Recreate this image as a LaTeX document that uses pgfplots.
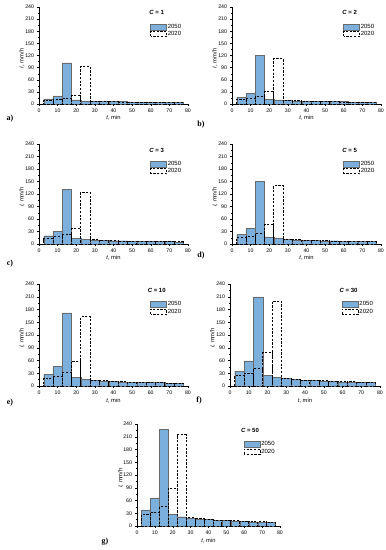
\documentclass[border=0pt]{standalone}
\usepackage{fontspec}
\setmainfont{Liberation Sans}
\newfontfamily\serifL{Liberation Serif}
\usepackage{pgfplots}
\usepackage{pgfplotstable}
\pgfplotsset{compat=1.18}
\definecolor{barblue}{RGB}{124,176,220}
\definecolor{baredge}{RGB}{105,105,105}

\pgfplotstableread{
t  a50 a20 b50 b20 c50 c20 d50 d20 e50 e20 f50 f20 g50 g20
5  13  10  17  12  20  13  23  15  27  18  35  24  38  27
10 20  12  26  15  31  17  37  19  46  23  59  30  66  33
15 102 15  120 19  132 22  150 25  172 31  210 41  227 45
20 10  20  12  30  14  37  17  46  20  59  25  79  28  89
25 8   93  10  112 11  124 13  140 16  163 20  199 22  215
30 7   7   9   9   10  10  12  12  14  14  18  18  19  20
35 7   6   8   8   9   9   10  10  12  12  15  16  17  17
40 6   6   7   7   8   8   9   9   11  11  14  14  15  15
45 6   5   7   6   8   7   9   8   10  10  13  13  14  14
50 5   5   6   6   7   7   8   8   9   9   12  12  13  13
55 5   5   6   6   7   6   8   7   9   9   11  11  12  12
60 5   4   6   5   6   6   7   7   8   8   10  10  11  11
65 4   4   5   5   6   6   7   7   8   8   10  10  10  11
70 4   4   5   5   6   5   6   6   7   7   9   9   10  10
75 4   3   5   4   5   5   6   6   7   7   9   8   9   9
}\data

\tikzset{ctitle/.style={font=\bfseries\fontsize{6}{7}\selectfont}}
\pgfplotsset{
  panel/.style={
    scale only axis, anchor=south west,
    xmin=0, xmax=80, ymin=0, ymax=240,
    xtick={0,10,...,80}, ytick={0,30,...,240},
    minor x tick num=1, minor y tick num=1,
    axis lines=left, axis line style={-, black, line width=0.4pt},
    tick align=outside, major tick length=2pt, minor tick length=1.2pt,
    tick style={black, line width=0.35pt},
    ticklabel style={font=\fontsize{5.2}{6}\selectfont},
    xticklabel style={yshift=0.5pt},
    yticklabel style={xshift=0.5pt},
    /pgf/number format/assume math mode=true,
    xlabel={\textit{t}, min}, ylabel={\textit{I}, mm/h},
    label style={font=\fontsize{5.8}{7}\selectfont},
    xlabel style={at={(axis description cs:0.5,-0.14)}, anchor=center},
    ylabel style={at={(axis description cs:-0.115,0.47)}, anchor=center},
    legend style={at={(axis description cs:0.745,0.835)}, anchor=north west,
      draw=none, fill=none, font=\fontsize{6}{7}\selectfont,
      inner sep=0pt, row sep=0pt, nodes={inner sep=0.7pt}, cells={anchor=west}},
  },
  b50/.style={ybar, bar width=5, bar shift=0pt, fill=barblue, draw=baredge, line width=0.3pt,
    legend image code/.code={\draw[##1] (0pt,-3pt) rectangle (16pt,3pt);}},
  b20/.style={ybar, bar width=5, bar shift=0pt, fill=none, draw=black, line width=0.85pt,
    dash pattern=on 2.2pt off 1.5pt,
    legend image code/.code={\draw[##1] (0pt,-2.5pt) rectangle (16pt,2.5pt);}},
}

\begin{document}
\begin{tikzpicture}
\useasboundingbox (0pt,0pt) rectangle (386pt,-550pt);

% a
\begin{axis}[panel, at={(39pt,-104pt)}, width=149pt, height=97pt]
\addplot[b50] table[x=t,y=a50]{\data};
\addplot[b20] table[x=t,y=a20]{\data};
\legend{2050,2020}
\node[ctitle] at (axis description cs:0.79,0.94) {\textit{C} = 1};
\end{axis}
% b
\begin{axis}[panel, at={(232pt,-104pt)}, width=149pt, height=97pt]
\addplot[b50] table[x=t,y=b50]{\data};
\addplot[b20] table[x=t,y=b20]{\data};
\legend{2050,2020}
\node[ctitle] at (axis description cs:0.79,0.94) {\textit{C} = 2};
\end{axis}
% c
\begin{axis}[panel, at={(39pt,-244pt)}, width=149pt, height=100pt]
\addplot[b50] table[x=t,y=c50]{\data};
\addplot[b20] table[x=t,y=c20]{\data};
\legend{2050,2020}
\node[ctitle] at (axis description cs:0.79,0.94) {\textit{C} = 3};
\end{axis}
% d
\begin{axis}[panel, at={(232pt,-244pt)}, width=149pt, height=100pt]
\addplot[b50] table[x=t,y=d50]{\data};
\addplot[b20] table[x=t,y=d20]{\data};
\legend{2050,2020}
\node[ctitle] at (axis description cs:0.79,0.94) {\textit{C} = 5};
\end{axis}
% e
\begin{axis}[panel, at={(39pt,-386pt)}, width=149pt, height=102pt]
\addplot[b50] table[x=t,y=e50]{\data};
\addplot[b20] table[x=t,y=e20]{\data};
\legend{2050,2020}
\node[ctitle] at (axis description cs:0.79,0.94) {\textit{C} = 10};
\end{axis}
% f
\begin{axis}[panel, at={(230pt,-386pt)}, width=150pt, height=102pt]
\addplot[b50] table[x=t,y=f50]{\data};
\addplot[b20] table[x=t,y=f20]{\data};
\legend{2050,2020}
\node[ctitle] at (axis description cs:0.79,0.94) {\textit{C} = 30};
\end{axis}
% g
\begin{axis}[panel, at={(137pt,-526pt)}, width=143pt, height=102pt]
\addplot[b50] table[x=t,y=g50]{\data};
\addplot[b20] table[x=t,y=g20]{\data};
\legend{2050,2020}
\node[ctitle] at (axis description cs:0.79,0.94) {\textit{C} = 50};
\end{axis}

\begin{scope}[every node/.style={font=\serifL\bfseries\fontsize{8}{9}\selectfont}]
\node at (10pt,-119pt) {a)};
\node at (201pt,-125pt) {b)};
\node at (10pt,-264pt) {c)};
\node at (201pt,-256pt) {d)};
\node at (10pt,-403pt) {e)};
\node at (199pt,-401pt) {f)};
\node at (105pt,-542pt) {g)};
\end{scope}
\end{tikzpicture}
\end{document}
